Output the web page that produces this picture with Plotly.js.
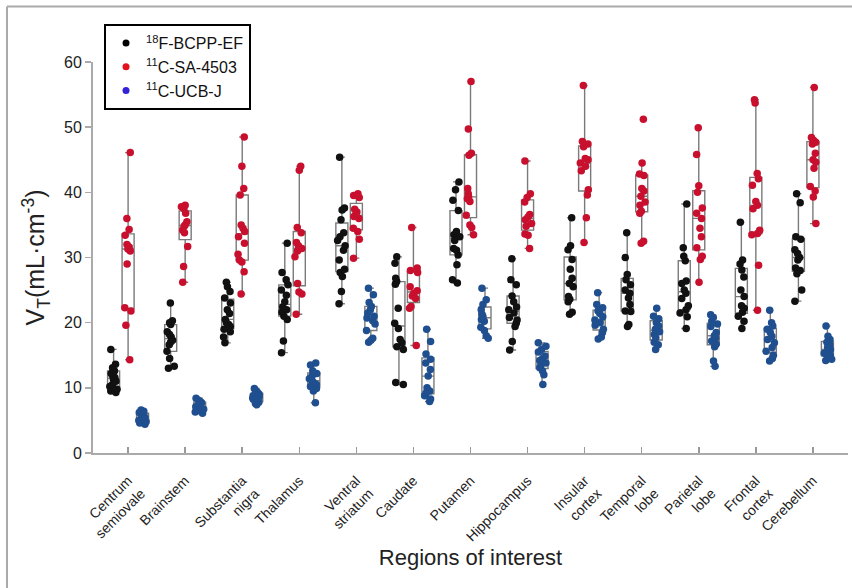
<!DOCTYPE html>
<html><head><meta charset="utf-8">
<script src="https://cdn.plot.ly/plotly-3.0.1.min.js"></script>
<style>html,body{margin:0;padding:0;background:#fff}#chart{width:852px;height:588px}</style>
</head><body><div id="chart"></div><script>
// Regions of interest (category order on the x axis)
const regions = ["Centrum semiovale","Brainstem","Substantia nigra","Thalamus","Ventral striatum","Caudate","Putamen","Hippocampus","Insular cortex","Temporal lobe","Parietal lobe","Frontal cortex","Cerebellum"];
const tickLabels = ["Centrum<br>semiovale","Brainstem","Substantia<br>nigra","Thalamus","Ventral<br>striatum","Caudate","Putamen","Hippocampus","Insular<br>cortex","Temporal<br>lobe","Parietal<br>lobe","Frontal<br>cortex","Cerebellum"];
const tracerNames = ["<sup>18</sup>F-BCPP-EF","<sup>11</sup>C-SA-4503","<sup>11</sup>C-UCB-J"];

// VT values (mL·cm^-3), one list per region
const bcppEF = [
  [15.9,13.6,13.1,12.6,12.2,11.9,11.6,11.3,11.0,10.5,10.2,9.8,9.5,9.3],
  [23.0,20.3,20.0,19.7,18.6,18.2,17.8,17.3,17.0,16.6,15.6,14.5,13.3,13.0],
  [26.2,25.5,24.8,23.8,23.0,22.0,21.4,20.5,20.0,19.7,19.4,19.0,18.6,17.8,16.9],
  [32.2,27.7,26.6,25.8,25.0,24.2,23.2,22.4,22.0,21.6,21.0,20.5,17.2,15.4],
  [45.4,37.6,37.3,35.8,33.8,33.2,32.6,31.8,31.1,29.6,28.2,27.7,27.1,24.8,22.9],
  [30.1,29.1,26.8,26.3,25.9,22.2,19.9,19.1,17.4,16.9,16.3,15.9,10.8,10.5],
  [41.6,40.4,38.8,37.2,34.0,33.5,33.2,32.6,31.4,31.1,30.4,28.9,26.6,26.1],
  [29.8,26.6,25.8,24.1,23.2,22.4,22.0,21.5,20.8,20.4,19.9,19.4,17.1,15.8],
  [36.1,31.8,31.2,29.7,28.2,26.8,26.0,25.5,24.0,23.6,23.2,21.6,21.3],
  [33.8,30.0,27.4,26.6,25.8,25.0,24.5,23.8,22.8,21.8,21.7,19.7,19.4],
  [38.2,31.5,30.2,29.5,26.4,26.0,25.0,24.5,23.7,22.6,22.0,21.5,20.9,19.1],
  [35.4,29.6,29.0,28.1,27.0,25.0,24.0,22.6,22.2,21.6,21.0,20.2,19.1],
  [39.8,38.4,33.2,32.8,31.2,30.6,30.0,29.6,28.4,28.0,27.5,25.0,23.3]
];
const saC4503 = [
  [46.1,36.0,34.3,33.4,32.0,31.6,31.3,31.0,29.0,22.3,21.8,19.6,14.3],
  [38.0,37.8,37.5,36.8,35.5,35.0,34.8,34.2,33.8,31.7,28.6,26.2],
  [48.5,44.0,40.6,39.6,35.0,34.5,34.0,33.2,32.2,30.5,29.6,29.3,27.8,24.4],
  [44.0,43.4,34.6,33.8,32.3,31.8,31.4,31.0,30.1,26.0,24.7,24.4,21.3],
  [39.8,39.5,39.2,37.4,37.0,36.6,36.3,36.0,34.5,34.0,32.8,29.9],
  [34.6,28.4,28.0,27.7,25.5,24.9,24.5,24.1,23.7,22.5,22.2,16.5],
  [57.0,49.7,46.0,45.7,40.6,39.8,39.3,39.0,38.6,36.5,35.0,34.6,33.5],
  [44.8,39.8,39.2,38.5,36.6,36.2,35.8,35.2,34.8,33.6,33.4,31.4],
  [56.4,47.8,47.4,47.0,45.2,45.0,44.5,44.0,43.3,40.4,39.6,36.1,32.3],
  [51.2,44.5,42.8,42.6,40.6,40.2,39.4,38.5,38.0,37.1,36.8,32.5,32.2],
  [49.9,45.8,41.0,40.0,37.6,36.8,36.0,34.5,33.2,31.5,30.2,29.7,26.2],
  [54.2,53.7,42.9,42.1,41.1,38.6,38.0,37.5,34.2,33.7,33.5,28.8,21.9],
  [56.1,48.4,48.0,47.7,47.4,46.0,45.0,44.6,43.7,40.9,40.2,39.3,35.2]
];
const ucbJ = [
  [6.6,6.4,6.2,6.0,5.8,5.6,5.4,5.2,5.0,4.8,4.6,4.4],
  [8.4,8.1,7.9,7.7,7.5,7.3,7.1,6.9,6.7,6.5,6.3,6.1],
  [9.9,9.6,9.3,9.0,8.8,8.6,8.4,8.2,8.0,7.8,7.6,7.4],
  [13.8,13.5,12.6,12.2,11.8,11.4,11.1,10.8,10.5,10.2,9.9,9.5,7.7],
  [25.3,24.3,23.1,22.5,22.0,21.5,21.0,20.7,20.3,19.8,18.8,17.6,17.3,17.0],
  [19.0,17.1,15.2,14.4,13.8,12.8,11.8,10.0,9.5,9.2,8.8,8.3,7.9],
  [25.3,23.5,22.8,22.0,21.3,21.0,20.5,20.2,19.3,18.8,18.0,17.6],
  [16.9,16.4,15.9,15.5,14.9,14.5,14.2,13.8,13.4,13.1,12.6,12.0,10.5],
  [24.6,22.8,22.3,21.8,21.4,20.9,20.4,20.0,19.6,19.0,18.5,17.8,17.5],
  [22.2,21.0,20.6,20.0,19.5,19.0,18.6,18.2,17.7,17.0,16.6,15.9],
  [21.2,20.8,20.2,19.8,19.4,18.5,18.0,17.6,17.2,16.7,16.3,14.1,13.3],
  [21.9,20.0,19.5,19.0,18.5,17.9,17.4,16.9,16.2,15.6,15.0,14.5,14.1],
  [19.5,17.9,17.4,17.0,16.6,16.2,15.9,15.6,15.3,15.0,14.7,14.4,14.2]
];

const pointColors = ["#111111","#c8102e","#1f4f8f"];
const legendColors = ["#000000","#e3101c","#3322d8"];
const series = [bcppEF, saC4503, ucbJ];

const traces = [];
series.forEach(function(s, k){
  const xs = [], ys = [];
  s.forEach(function(vals, i){ vals.forEach(function(v){ xs.push(regions[i]); ys.push(v); }); });
  traces.push({
    type:"box", x:xs, y:ys, name:tracerNames[k], showlegend:false,
    boxpoints:"all", jitter:0.75, pointpos:0,
    marker:{color:pointColors[k], size:7.5},
    line:{color:"#7a7a7a", width:1.4},
    fillcolor:"rgba(255,255,255,0)",
    hoverinfo:"y"
  });
});
series.forEach(function(s, k){
  traces.push({
    type:"scatter", mode:"markers", x:[null], y:[null], name:tracerNames[k],
    marker:{color:legendColors[k], size:7}, showlegend:true
  });
});

const layout = {
  width:852, height:588,
  margin:{l:93, r:4, t:62, b:135},
  paper_bgcolor:"#ffffff", plot_bgcolor:"#ffffff",
  font:{family:"Arial, Liberation Sans, sans-serif", color:"#222"},
  boxmode:"group", boxgap:0.238, boxgroupgap:0.17,
  showlegend:true,
  legend:{x:0.0146, y:1.097, xanchor:"left", yanchor:"top",
    bgcolor:"#ffffff", bordercolor:"#000000", borderwidth:2,
    font:{size:16, color:"#111"}, tracegroupgap:0},
  xaxis:{type:"category", categoryorder:"array", categoryarray:regions,
    range:[-0.615, 12.615], tickvals:regions, ticktext:tickLabels,
    tickangle:-45, tickfont:{size:14, color:"#222"}, ticklabelstandoff:12,
    ticks:"inside", ticklen:6, tickcolor:"#999", tickwidth:1.5,
    showline:true, linecolor:"#aaaaaa", linewidth:2,
    showgrid:false, zeroline:false,
    title:{text:"Regions of interest", font:{size:22, color:"#222"}, standoff:6}},
  yaxis:{range:[0,60], dtick:10, tick0:0,
    tickfont:{size:16, color:"#222"},
    ticks:"outside", ticklen:6, tickcolor:"#aaaaaa", tickwidth:1.5,
    showline:true, linecolor:"#aaaaaa", linewidth:2,
    showgrid:false, zeroline:false,
    title:{text:"V<sub>T</sub>(mL·cm<sup>-3</sup>)", font:{size:25, color:"#222"}, standoff:12}},
  shapes:[
    {type:"line", xref:"paper", yref:"paper", x0:-0.1139, x1:-0.1139, y0:1.142, y1:-0.4, line:{color:"#aaaaaa", width:2}},
    {type:"line", xref:"paper", yref:"paper", x0:-0.1139, x1:1.02, y0:1.142, y1:1.142, line:{color:"#aaaaaa", width:2}}
  ]
};

Plotly.newPlot("chart", traces, layout, {displayModeBar:false, staticPlot:true});
</script></body></html>
